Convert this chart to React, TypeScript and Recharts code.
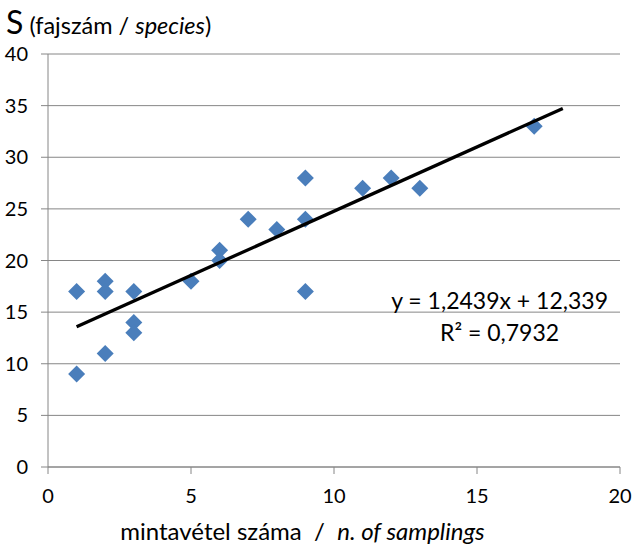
import { ScatterChart, Scatter, XAxis, YAxis, CartesianGrid } from 'recharts';

// mintavételek száma vs. fajszám
const samplings = [1, 1, 2, 2, 2, 3, 3, 3, 5, 6, 6, 7, 8, 9, 9, 9, 11, 12, 13, 17];
const species = [17, 9, 18, 17, 11, 17, 14, 13, 18, 21, 20, 24, 23, 28, 24, 17, 27, 28, 27, 33];

// trendline end points (y = 1,2439x + 12,339)
const trendX = [1, 18];
const trendY = [13.583, 34.729];

const xTicks = [0, 5, 10, 15, 20];
const yTicks = [0, 5, 10, 15, 20, 25, 30, 35, 40];

const points = samplings.map((x, i) => ({ x, y: species[i] }));
const trend = trendX.map((x, i) => ({ x, y: trendY[i] }));

const FONT = 'Lato, "Open Sans", sans-serif';
const GRID = '#868686';
const BLUE = '#4a7ebb';

const Diamond = (props: any) => {
  const { cx, cy } = props;
  const r = 8.5;
  return <polygon points={`${cx},${cy - r} ${cx + r},${cy} ${cx},${cy + r} ${cx - r},${cy}`} fill={BLUE} />;
};

const NoDot = () => <g />;

export default function App() {
  return (
    <div style={{ position: 'absolute', left: 0, top: 0, width: 632, height: 554, fontFamily: FONT, background: '#fff' }}>
      <ScatterChart width={632} height={554} margin={{ top: 54, right: 12, bottom: 0, left: 0 }}>
        <CartesianGrid vertical={false} stroke={GRID} strokeWidth={1} />
        <XAxis
          type="number"
          dataKey="x"
          domain={[0, 20]}
          ticks={xTicks}
          height={87}
          stroke={GRID}
          tickSize={7}
          tickMargin={15}
          tick={{ fill: '#000', fontSize: 20, fontFamily: FONT }}
        />
        <YAxis
          type="number"
          dataKey="y"
          domain={[0, 40]}
          ticks={yTicks}
          width={48}
          stroke={GRID}
          tickSize={7}
          tickMargin={13}
          tick={{ fill: '#000', fontSize: 20, fontFamily: FONT }}
        />
        <Scatter data={points} shape={Diamond} isAnimationActive={false} />
        <Scatter data={trend} shape={NoDot} line={{ stroke: '#000', strokeWidth: 3.3 }} isAnimationActive={false} />
      </ScatterChart>

      <div style={{ position: 'absolute', left: 6, top: 2, whiteSpace: 'nowrap', color: '#000', fontSize: 32 }}>
        <span>S</span>
        <span style={{ fontSize: 23.5 }}> (fajszám / <i>species</i>)</span>
      </div>

      <div style={{ position: 'absolute', right: 24, top: 284, fontSize: 23, textAlign: 'center', lineHeight: '32px', color: '#000' }}>
        <div>y = 1,2439x + 12,339</div>
        <div>R² = 0,7932</div>
      </div>

      <div style={{ position: 'absolute', left: 0, width: 605, top: 516, fontSize: 24, textAlign: 'center', whiteSpace: 'pre', color: '#000' }}>
        {'mintavétel száma  /  '}<i>n. of samplings</i>
      </div>
    </div>
  );
}
